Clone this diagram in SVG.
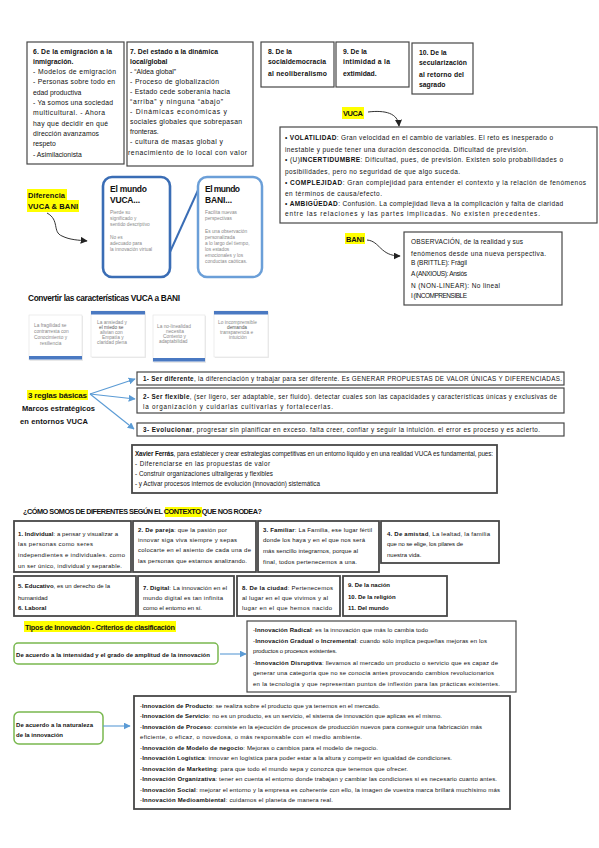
<svg xmlns="http://www.w3.org/2000/svg" width="599" height="848" viewBox="0 0 599 848">
<style>
text{font-family:"Liberation Sans",Arial,sans-serif;font-size:6px;fill:#111}
.b{font-weight:bold}
.s7{font-size:6.8px}
.sv{font-size:6.5px}
.sr{font-size:6.3px}
.g{fill:#8a8a8a;font-size:4.8px}
.box{fill:#fff;stroke:#474747;stroke-width:1.2}
.box2{fill:#fff;stroke:#474747;stroke-width:1.8}
.hl{fill:#ffff00}
.grn{fill:#fff;stroke:#79b84f;stroke-width:1.5}
.card{fill:#fff;stroke:#e2e2e2;stroke-width:0.6}
.bar{fill:#4a79c2}
.ba{stroke:#5b9bd5;stroke-width:1.1;fill:none}
.ka{stroke:#333;stroke-width:1;fill:none}
</style>
<defs>
<marker id="mb" viewBox="0 0 10 10" refX="9" refY="5" markerWidth="7" markerHeight="7" orient="auto" markerUnits="userSpaceOnUse"><path d="M0,0 L10,5 L0,10 z" fill="#5b9bd5"/></marker>
<marker id="mk" viewBox="0 0 10 10" refX="9" refY="5" markerWidth="7" markerHeight="7" orient="auto" markerUnits="userSpaceOnUse"><path d="M0,0 L10,5 L0,10 z" fill="#222"/></marker>
</defs>
<rect width="599" height="848" fill="#fff"/>

<g id="n6">
<rect class="box" x="27" y="42" width="97" height="122"/>
<text x="33" y="53.5" class="b s7" textLength="79" lengthAdjust="spacing">6. De la emigración a la</text>
<text x="33" y="63.8" class="b s7">inmigración.</text>
<text x="33" y="74.1" class="s7" textLength="83" lengthAdjust="spacing">- Modelos de emigración</text>
<text x="33" y="84.4" class="s7" textLength="82" lengthAdjust="spacing">- Personas sobre todo en</text>
<text x="33" y="94.7" class="s7">edad productiva</text>
<text x="33" y="105" class="s7" textLength="80" lengthAdjust="spacing">- Ya somos una sociedad</text>
<text x="33" y="115.3" class="s7" textLength="72" lengthAdjust="spacing">multicultural. - Ahora</text>
<text x="33" y="125.6" class="s7" textLength="75" lengthAdjust="spacing">hay que decidir en qué</text>
<text x="33" y="135.9" class="s7" textLength="66" lengthAdjust="spacing">dirección avanzamos</text>
<text x="33" y="146.2" class="s7">respeto</text>
<text x="33" y="156.5" class="s7">- Asimilacionista</text>
</g>

<g id="n7">
<rect class="box" x="127" y="42" width="126" height="124"/>
<text x="130" y="53.5" class="b s7" textLength="88" lengthAdjust="spacing">7. Del estado a la dinámica</text>
<text x="130" y="63.6" class="b s7">local/global</text>
<text x="130" y="73.7" class="s7">- “Aldea global”</text>
<text x="130" y="83.8" class="s7" textLength="89" lengthAdjust="spacing">- Proceso de globalización</text>
<text x="130" y="93.9" class="s7" textLength="100" lengthAdjust="spacing">- Estado cede soberanía hacia</text>
<text x="130" y="104" class="s7" textLength="93" lengthAdjust="spacing">“arriba” y ninguna “abajo”</text>
<text x="130" y="114.1" class="s7" textLength="97" lengthAdjust="spacing">- Dinámicas económicas y</text>
<text x="130" y="124.2" class="s7" textLength="112" lengthAdjust="spacing">sociales globales que sobrepasan</text>
<text x="130" y="134.3" class="s7">fronteras.</text>
<text x="130" y="144.4" class="s7" textLength="93" lengthAdjust="spacing">- cultura de masas global y</text>
<text x="128" y="154.5" class="s7" textLength="119" lengthAdjust="spacing">renacimiento de lo local con valor</text>
</g>

<g id="n8">
<rect class="box" x="261" y="42" width="73" height="45"/>
<text x="268" y="53.5" class="b s7">8. De la</text>
<text x="268" y="64" class="b s7" textLength="58" lengthAdjust="spacing">socialdemocracia</text>
<text x="268" y="75.5" class="b s7" textLength="59" lengthAdjust="spacing">al neoliberalismo</text>
</g>
<g id="n9">
<rect class="box" x="336" y="42" width="73" height="45"/>
<text x="343" y="53.5" class="b s7">9. De la</text>
<text x="343" y="64" class="b s7" textLength="47" lengthAdjust="spacing">intimidad a la</text>
<text x="343" y="75.5" class="b s7">extimidad.</text>
</g>
<g id="n10">
<rect class="box" x="412" y="43" width="61" height="51"/>
<text x="419" y="54.5" class="b s7">10. De la</text>
<text x="419" y="65" class="b s7" textLength="48" lengthAdjust="spacing">secularización</text>
<text x="419" y="76.5" class="b s7" textLength="45" lengthAdjust="spacing">al retorno del</text>
<text x="419" y="87" class="b s7">sagrado</text>
</g>

<g id="vuca-label">
<rect class="hl" x="342" y="107" width="22" height="12"/>
<text x="343" y="116" class="b" style="font-size:7.5px" textLength="20" lengthAdjust="spacing">VUCA</text>
</g>
<g id="vuca-box">
<rect class="box" x="280" y="127" width="317" height="96"/>
<text x="285" y="139.5" class="sv" textLength="268" lengthAdjust="spacing">• <tspan class="b">VOLATILIDAD</tspan>: Gran velocidad en el cambio de variables. El reto es inesperado o</text>
<text x="285" y="151.5" class="sv" textLength="243" lengthAdjust="spacing">inestable y puede tener una duración desconocida. Dificultad de previsión.</text>
<text x="285" y="161.5" class="sv" textLength="278" lengthAdjust="spacing">• (U)<tspan class="b">INCERTIDUMBRE</tspan>: Dificultad, pues, de previsión. Existen solo probabilidades o</text>
<text x="285" y="173.5" class="sv" textLength="175" lengthAdjust="spacing">posibilidades, pero no seguridad de que algo suceda.</text>
<text x="285" y="184.5" class="sv" textLength="301" lengthAdjust="spacing">• <tspan class="b">COMPLEJIDAD</tspan>: Gran complejidad para entender el contexto y la relación de fenómenos</text>
<text x="285" y="195.5" class="sv" textLength="97" lengthAdjust="spacing">en términos de causa/efecto.</text>
<text x="285" y="205.5" class="sv" textLength="278" lengthAdjust="spacing">• <tspan class="b">AMBIGÜEDAD</tspan>: Confusión. La complejidad lleva a la complicación y falta de claridad</text>
<text x="285" y="216" class="sv" textLength="255" lengthAdjust="spacing">entre las relaciones y las partes implicadas. No existen precedentes.</text>
</g>

<g id="dif-label">
<rect class="hl" x="27" y="189" width="40" height="11"/>
<rect class="hl" x="27" y="200" width="52" height="12"/>
<text x="28" y="198" class="b" style="font-size:7.5px" textLength="37" lengthAdjust="spacing">Diferencia</text>
<text x="28" y="209" class="b" style="font-size:7.5px" textLength="50" lengthAdjust="spacing">VUCA &amp; BANI</text>
</g>

<g id="mundo-vuca">
<rect x="103" y="177" width="67" height="100" rx="9" fill="#fff" stroke="#3a6db5" stroke-width="2.6"/>
<text x="110" y="192" class="b" style="font-size:8.5px" textLength="37" lengthAdjust="spacing">El mundo</text>
<text x="110" y="203" class="b" style="font-size:8.5px" textLength="30" lengthAdjust="spacing">VUCA...</text>
<text x="110" y="214" class="g">Pierde su</text>
<text x="110" y="220" class="g">significado y</text>
<text x="110" y="226" class="g">sentido descriptivo</text>
<text x="110" y="239" class="g">No es</text>
<text x="110" y="245" class="g">adecuado para</text>
<text x="110" y="251" class="g">la innovación virtual</text>
</g>
<g id="mundo-bani">
<line x1="170" y1="252" x2="199" y2="188" stroke="#3a6db5" stroke-width="2"/>
<rect x="198" y="177" width="64" height="100" rx="9" fill="#fff" stroke="#6b9fd8" stroke-width="2.5"/>
<text x="205" y="192" class="b" style="font-size:8.5px" textLength="35" lengthAdjust="spacing">El mundo</text>
<text x="205" y="203" class="b" style="font-size:8.5px" textLength="27" lengthAdjust="spacing">BANI...</text>
<text x="205" y="214" class="g">Facilita nuevas</text>
<text x="205" y="220" class="g">perspectivas</text>
<text x="205" y="233" class="g">Es una observación</text>
<text x="205" y="239" class="g">personalizada</text>
<text x="205" y="245" class="g">a lo largo del tiempo,</text>
<text x="205" y="251" class="g">los estados</text>
<text x="205" y="257" class="g">emocionales y los</text>
<text x="205" y="263" class="g">conductas caóticas.</text>
</g>

<g id="bani-label">
<rect class="hl" x="345" y="233" width="20" height="11"/>
<text x="346" y="241.5" class="b" style="font-size:7.5px" textLength="18" lengthAdjust="spacing">BANI</text>
</g>
<g id="bani-box">
<rect class="box" x="404" y="232" width="158" height="73"/>
<text x="411" y="244.2" class="sv" textLength="112" lengthAdjust="spacing">OBSERVACIÓN, de la realidad y sus</text>
<text x="411" y="255.8" class="sv" textLength="135" lengthAdjust="spacing">fenómenos desde una nueva perspectiva.</text>
<text x="411" y="265.2" class="sv" textLength="56" lengthAdjust="spacing">B (BRITTLE): Frágil</text>
<text x="411" y="275.8" class="sv" textLength="56" lengthAdjust="spacing">A (ANXIOUS): Ansiós</text>
<text x="411" y="287.5" class="sv" textLength="89" lengthAdjust="spacing">N (NON-LINEAR): No lineal</text>
<text x="411" y="297.5" class="sv" textLength="56" lengthAdjust="spacing">I (INCOMPRENSIBLE</text>
</g>

<g id="convertir">
<text x="28" y="301" class="b" style="font-size:8.3px" textLength="152" lengthAdjust="spacing">Convertir las características VUCA a BANI</text>
<rect x="30" y="316" width="53" height="45" fill="#ececec"/>
<rect class="card" x="29" y="315" width="53" height="45"/>
<rect class="bar" x="29" y="356" width="53" height="3.5"/>
<text x="34" y="327" class="g">La fragilidad se</text>
<text x="34" y="333" class="g">contrarresta con</text>
<text x="34" y="339" class="g">Conocimiento y</text>
<text x="40" y="345" class="g">resiliencia</text>
<rect x="92" y="312" width="54" height="46" fill="#ececec"/>
<rect class="card" x="91" y="311" width="54" height="46"/>
<rect class="bar" x="91" y="311" width="54" height="3.5"/>
<text x="97" y="324" class="g">La ansiedad y</text>
<text x="99" y="329" class="g" style="fill:#555">el miedo se</text>
<text x="100" y="334" class="g">alivian con</text>
<text x="102" y="339" class="g">Empatía y</text>
<text x="97" y="344" class="g">claridad plena</text>
<rect x="154" y="316" width="52" height="47" fill="#ececec"/>
<rect class="card" x="153" y="315" width="52" height="47"/>
<rect class="bar" x="153" y="358" width="52" height="3.5"/>
<text x="157" y="328" class="g">La no-linealidad</text>
<text x="166" y="333" class="g">necesita</text>
<text x="163" y="338" class="g">Contexto y</text>
<text x="159" y="343" class="g">adaptabilidad</text>
<rect x="215" y="312" width="54" height="46" fill="#ececec"/>
<rect class="card" x="214" y="311" width="54" height="46"/>
<rect class="bar" x="214" y="311" width="54" height="3.5"/>
<text x="218" y="324" class="g">Lo incomprensible</text>
<text x="227" y="329" class="g" style="fill:#555">demanda</text>
<text x="220" y="334" class="g">transparencia e</text>
<text x="229" y="339" class="g">intuición</text>
</g>

<g id="reglas-label">
<rect class="hl" x="27" y="390" width="61" height="10"/>
<text x="28" y="398" class="b" style="font-size:8px" textLength="59" lengthAdjust="spacing">3 reglas básicas</text>
<text x="22" y="411" class="b" style="font-size:7.5px" textLength="73" lengthAdjust="spacing">Marcos estratégicos</text>
<text x="20" y="424" class="b" style="font-size:7.5px" textLength="68" lengthAdjust="spacing">en entornos VUCA</text>
</g>
<g id="regla1">
<rect class="box" x="137" y="372" width="427" height="13"/>
<text x="143" y="381" class="sr" textLength="419" lengthAdjust="spacing"><tspan class="b">1- Ser diferente</tspan>, la diferenciación y trabajar para ser diferente. Es GENERAR PROPUESTAS DE VALOR ÚNICAS Y DIFERENCIADAS.</text>
</g>
<g id="regla2">
<rect class="box" x="137" y="388" width="427" height="25"/>
<text x="143" y="398.5" class="sr" textLength="414" lengthAdjust="spacing"><tspan class="b">2- Ser flexible</tspan>, (ser ligero, ser adaptable, ser fluido). detectar cuales son las capacidades y características únicas y exclusivas de</text>
<text x="143" y="408.5" class="sr" textLength="190" lengthAdjust="spacing">la organización y cuidarlas cultivarlas y fortalecerlas.</text>
</g>
<g id="regla3">
<rect class="box" x="137" y="423" width="427" height="13"/>
<text x="143" y="432" class="sr" textLength="397" lengthAdjust="spacing"><tspan class="b">3- Evolucionar</tspan>, progresar sin planificar en exceso. falta creer, confiar y seguir la intuición. el error es proceso y es acierto.</text>
</g>

<g id="xavier">
<rect class="box2" x="132" y="445" width="365" height="48"/>
<text x="135" y="455.5" style="font-size:6.3px" textLength="358" lengthAdjust="spacing"><tspan class="b">Xavier Ferrás</tspan>, para establecer y crear estrategias competitivas en un entorno líquido y en una realidad VUCA es fundamental, pues:</text>
<text x="135" y="465.5" style="font-size:6.3px" textLength="135" lengthAdjust="spacing">- Diferenciarse en las propuestas de valor</text>
<text x="135" y="475.5" style="font-size:6.3px" textLength="138" lengthAdjust="spacing">- Construir organizaciones ultraligeras y flexibles</text>
<text x="135" y="485.5" style="font-size:6.3px" textLength="185" lengthAdjust="spacing">- y Activar procesos internos de evolución (innovación) sistemática</text>
</g>

<g id="heading-contexto">
<rect class="hl" x="165" y="507" width="37" height="10"/>
<text x="23" y="514" class="b" style="font-size:7.3px" textLength="239" lengthAdjust="spacing">¿CÓMO SOMOS DE DIFERENTES SEGÚN EL CONTEXTO QUE NOS RODEA?</text>
</g>

<g id="c1">
<rect class="box2" x="14" y="521" width="117" height="51"/>
<text x="18" y="535.5" textLength="100" lengthAdjust="spacing"><tspan class="b">1. Individual</tspan>: a pensar y visualizar a</text>
<text x="18" y="545.5" textLength="75" lengthAdjust="spacing">las personas como seres</text>
<text x="18" y="556.5" textLength="107" lengthAdjust="spacing">independientes e individuales. como</text>
<text x="18" y="567.5" textLength="104" lengthAdjust="spacing">un ser único, individual y separable.</text>
</g>
<g id="c2">
<rect class="box2" x="133" y="521" width="123" height="51"/>
<text x="138" y="531.5" textLength="89" lengthAdjust="spacing"><tspan class="b">2. De pareja</tspan>: que la pasión por</text>
<text x="138" y="541.5" textLength="99" lengthAdjust="spacing">innovar siga viva siempre y sepas</text>
<text x="138" y="551.5" textLength="113" lengthAdjust="spacing">colocarte en el asiento de cada una de</text>
<text x="138" y="562.5" textLength="109" lengthAdjust="spacing">las personas que estamos analizando.</text>
</g>
<g id="c3">
<rect class="box2" x="258" y="521" width="121" height="51"/>
<text x="263" y="531.5" textLength="109" lengthAdjust="spacing"><tspan class="b">3. Familiar</tspan>: La Familia, ese lugar fértil</text>
<text x="263" y="541.5" textLength="102" lengthAdjust="spacing">donde los haya y en el que nos será</text>
<text x="263" y="552.5" textLength="95" lengthAdjust="spacing">más sencillo integrarnos, porque al</text>
<text x="263" y="563.5" textLength="94" lengthAdjust="spacing">final, todos pertenecemos a una.</text>
</g>
<g id="c4">
<rect class="box2" x="381" y="521" width="118" height="42"/>
<text x="387" y="535.5" textLength="103" lengthAdjust="spacing"><tspan class="b">4. De amistad</tspan>, La lealtad, la familia</text>
<text x="387" y="545.5" textLength="76" lengthAdjust="spacing">que no se elige, los pilares de</text>
<text x="387" y="556.5">nuestra vida.</text>
</g>
<g id="c5">
<rect class="box2" x="14" y="576" width="122" height="40"/>
<text x="18" y="587.5" textLength="92" lengthAdjust="spacing"><tspan class="b">5. Educativo</tspan>, es un derecho de la</text>
<text x="18" y="599.5">humanidad</text>
<text x="18" y="609.5" class="b">6. Laboral</text>
</g>
<g id="c7">
<rect class="box2" x="138" y="576" width="96" height="40"/>
<text x="143" y="589.5" textLength="84" lengthAdjust="spacing"><tspan class="b">7. Digital</tspan>: La innovación en el</text>
<text x="143" y="599.5" textLength="80" lengthAdjust="spacing">mundo digital es tan infinita</text>
<text x="143" y="609.5" textLength="59" lengthAdjust="spacing">como el entorno en sí.</text>
</g>
<g id="c8">
<rect class="box2" x="237" y="576" width="103" height="40"/>
<text x="242" y="589.5" textLength="91" lengthAdjust="spacing"><tspan class="b">8. De la ciudad</tspan>: Pertenecemos</text>
<text x="242" y="599.5" textLength="86" lengthAdjust="spacing">al lugar en el que vivimos y al</text>
<text x="242" y="609.5" textLength="90" lengthAdjust="spacing">lugar en el que hemos nacido</text>
</g>
<g id="c9">
<rect class="box2" x="343" y="576" width="104" height="40"/>
<text x="348" y="586.5" class="b">9. De la nación</text>
<text x="348" y="598.5" class="b">10. De la religión</text>
<text x="348" y="609.5" class="b">11. Del mundo</text>
</g>

<g id="tipos-heading">
<rect class="hl" x="24" y="621" width="152" height="11"/>
<text x="25" y="629.5" class="b" style="font-size:7.3px" textLength="150" lengthAdjust="spacing">Tipos de Innovación - Criterios de clasificación</text>
</g>
<g id="intensidad">
<rect class="grn" x="14" y="643" width="204" height="21" rx="4"/>
<text x="16" y="657" class="b" textLength="194" lengthAdjust="spacing">De acuerdo a la intensidad y el grado de amplitud de la innovación</text>
</g>
<g id="intensidad-box">
<rect class="box" x="247" y="621" width="269" height="71"/>
<text x="253" y="631.5" textLength="175" lengthAdjust="spacing">-<tspan class="b">Innovación Radical</tspan>: es la innovación que más lo cambia todo</text>
<text x="253" y="642.5" textLength="234" lengthAdjust="spacing">-<tspan class="b">Innovación Gradual o Incremental</tspan>: cuando sólo implica pequeñas mejoras en los</text>
<text x="253" y="652.5" textLength="84" lengthAdjust="spacing">productos o procesos existentes.</text>
<text x="253" y="664.5" textLength="245" lengthAdjust="spacing">-<tspan class="b">Innovación Disruptiva</tspan>: llevamos al mercado un producto o servicio que es capaz de</text>
<text x="253" y="674.5" textLength="241" lengthAdjust="spacing">generar una categoría que no se conocía antes provocando cambios revolucionarios</text>
<text x="253" y="685.5" textLength="247" lengthAdjust="spacing">en la tecnología y que representan puntos de inflexión para las prácticas existentes.</text>
</g>
<g id="naturaleza">
<rect class="grn" x="14" y="712" width="89" height="32" rx="5"/>
<text x="16" y="726.5" class="b" textLength="77" lengthAdjust="spacing">De acuerdo a la naturaleza</text>
<text x="16" y="736.5" class="b" textLength="47" lengthAdjust="spacing">de la innovación</text>
</g>
<g id="naturaleza-box">
<rect class="box2" x="134" y="696" width="376" height="113"/>
<text x="140" y="707.5" textLength="240" lengthAdjust="spacing">-<tspan class="b">Innovación de Producto</tspan>: se realiza sobre el producto que ya tenemos en el mercado.</text>
<text x="140" y="718" textLength="302" lengthAdjust="spacing">-<tspan class="b">Innovación de Servicio</tspan>: no es un producto, es un servicio, el sistema de innovación que aplicas es el mismo.</text>
<text x="140" y="728.5" textLength="342" lengthAdjust="spacing">-<tspan class="b">Innovación de Proceso</tspan>: consiste en la ejecución de procesos de producción nuevos para conseguir una fabricación más</text>
<text x="140" y="739" textLength="222" lengthAdjust="spacing">eficiente, o eficaz, o novedosa, o más responsable con el medio ambiente.</text>
<text x="140" y="749.5" textLength="238" lengthAdjust="spacing">-<tspan class="b">Innovación de Modelo de negocio</tspan>: Mejoras o cambios para el modelo de negocio.</text>
<text x="140" y="760" textLength="312" lengthAdjust="spacing">-<tspan class="b">Innovación Logística</tspan>: innovar en logística para poder estar a la altura y competir en igualdad de condiciones.</text>
<text x="140" y="770.5" textLength="268" lengthAdjust="spacing">-<tspan class="b">Innovación de Marketing</tspan>: para que todo el mundo sepa y conozca que tenemos que ofrecer.</text>
<text x="140" y="781" textLength="357" lengthAdjust="spacing">-<tspan class="b">Innovación Organizativa</tspan>: tener en cuenta el entorno donde trabajan y cambiar las condiciones si es necesario cuanto antes.</text>
<text x="140" y="791.5" textLength="360" lengthAdjust="spacing">-<tspan class="b">Innovación Social</tspan>: mejorar el entorno y la empresa es coherente con ello, la imagen de vuestra marca brillará muchísimo más</text>
<text x="140" y="802" textLength="193" lengthAdjust="spacing">-<tspan class="b">Innovación Medioambiental</tspan>: cuidamos el planeta de manera real.</text>
</g>

<g id="connectors">
<path class="ka" d="M368 112 C385 110 398 113 399 126" marker-end="url(#mk)"/>
<path class="ka" d="M367 240 C380 241 380 256 400 256" marker-end="url(#mk)"/>
<path class="ka" d="M47 213 C60 220 52 232 62 236 C70 240 78 240 87 241" marker-end="url(#mk)"/>
<line class="ba" x1="90" y1="394" x2="135" y2="379" marker-end="url(#mb)"/>
<line class="ba" x1="90" y1="394" x2="135" y2="399" marker-end="url(#mb)"/>
<line class="ba" x1="90" y1="394" x2="134" y2="429" marker-end="url(#mb)"/>
<line class="ba" x1="220" y1="654" x2="246" y2="654" marker-end="url(#mb)"/>
<line class="ba" x1="103" y1="726" x2="130" y2="726" marker-end="url(#mb)"/>
</g>
</svg>
